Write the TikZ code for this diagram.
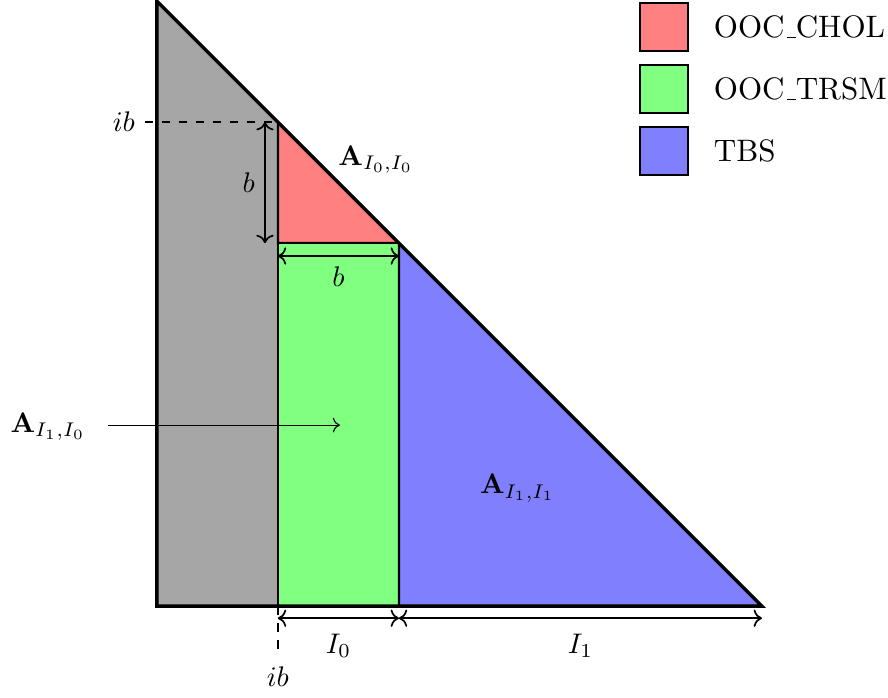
\documentclass[tikz,border=0pt]{standalone}
\usepackage{amsmath}
\usepackage{xcolor}
\usepackage{tikz}
\usetikzlibrary{arrows.meta,calc,positioning}

\newcommand\usc{\kern.06em\vbox{\hrule width.3em}}

\tikzset{
  blk/.style={draw=black, thick},
  dimarrow/.style={<->, semithick},
  legbox/.style={draw=black, thick, minimum size=0.6cm, inner sep=0pt},
  legtext/.style={anchor=west, inner sep=0pt, font=\fontsize{10.95}{13.6}\selectfont}
}

\begin{document}
\begin{tikzpicture}[x=1.5cm,y=1.5cm]

  \useasboundingbox (-1.297,-0.752) rectangle (6.042,5.009);

  \def\n{5}\def\ib{1}\def\bb{1}

  % coins de la matrice
  \coordinate (bl) at (0,0);
  \coordinate (tp) at (0,\n);
  \coordinate (br) at (\n,0);
  \coordinate (dg) at (\ib,\n-\ib);
  \coordinate (db) at (\ib+\bb,\n-\ib-\bb);
  \coordinate (cb) at (\ib,\n-\ib-\bb);
  \coordinate (ci) at (\ib,0);
  \coordinate (cj) at (\ib+\bb,0);

  % blocs
  \fill[gray!70]  (bl) -- (tp) -- (dg) -- (ci) -- cycle;
  \filldraw[fill=red!50, blk]   (dg) -- (cb) -- (db) -- cycle;
  \filldraw[fill=green!50, blk] (cb) rectangle (cj);
  \filldraw[fill=blue!50, blk]  (cj) -- (db) -- (br) -- cycle;

  % contour
  \draw[very thick] (bl) -- (tp) -- (br) -- cycle;

  % repères ib
  \node[anchor=east] (ibl) at (-0.1,\n-\ib) {$ib$};
  \draw[dashed, semithick] (ibl.east) -- (dg);
  \node[anchor=north] (ibb) at (\ib,-0.42) {$ib$};
  \draw[dashed, semithick] (ci) -- (ibb.north);

  % cotes b
  \coordinate (vb1) at (\ib-0.107,\n-\ib);
  \coordinate (vb2) at (\ib-0.107,\n-\ib-\bb);
  \draw[dimarrow] (vb1) -- node[left] (lbv) {$b$} (vb2);
  \coordinate (hb1) at (\ib,\n-\ib-\bb-0.107);
  \coordinate (hb2) at (\ib+\bb,\n-\ib-\bb-0.107);
  \draw[dimarrow] (hb1) -- node[below] (lbh) {$b$} (hb2);

  % cotes I0, I1
  \coordinate (x0) at (\ib,-0.1);
  \coordinate (x1) at (\ib+\bb,-0.1);
  \coordinate (x2) at (\n,-0.1);
  \draw[dimarrow] (x0) -- node[below=2pt] (lI0) {$I_0$} (x1);
  \draw[dimarrow] (x1) -- node[below=2pt] (lI1) {$I_1$} (x2);

  % noms des blocs
  \node (aoo) at (1.81,3.69) {$\mathbf{A}_{I_0,I_0}$};
  \node (a11) at (2.98,0.975) {$\mathbf{A}_{I_1,I_1}$};
  \node (a10) at (-0.90,1.48) {$\mathbf{A}_{I_1,I_0}$};
  \coordinate (a10t) at (1.512,1.496);
  \draw[->] ($(a10.east)+(0.1,0.016)$) -- (a10t);

  % légende
  \node[legbox, fill=red!50] (kchol) at (4.19,4.785) {};
  \node[legbox, fill=green!50, below=4pt of kchol] (ktrsm) {};
  \node[legbox, fill=blue!50, below=4pt of ktrsm] (ktbs) {};
  \node[legtext, right=8.5pt of kchol] (tchol) {OOC\usc CHOL};
  \node[legtext, right=8.5pt of ktrsm] (ttrsm) {OOC\usc TRSM};
  \node[legtext, right=8.5pt of ktbs] (ttbs) {TBS};

\end{tikzpicture}
\end{document}
